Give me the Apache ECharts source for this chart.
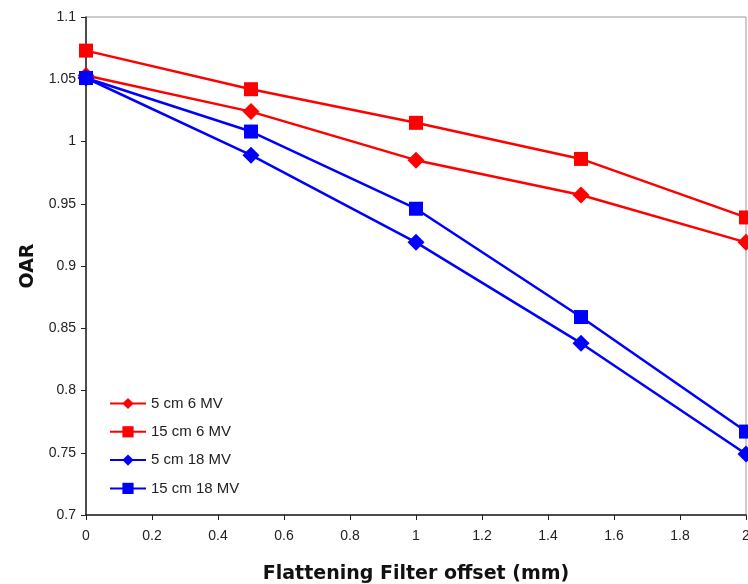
<!DOCTYPE html>
<html>
<head>
<meta charset="utf-8">
<script src="https://cdn.jsdelivr.net/npm/echarts@6/dist/echarts.min.js"></script>
<style>
  html, body { margin: 0; padding: 0; background: #fff; }
  #chart { width: 748px; height: 584px; }
</style>
</head>
<body>
<div id="chart"></div>
<script>
// offsets (mm)
const offsets = [0, 0.5, 1, 1.5, 2];
// OAR values
const oar5cm6MV = [1.053, 1.024, 0.985, 0.957, 0.919];
const oar15cm6MV = [1.073, 1.042, 1.015, 0.986, 0.939];
const oar5cm18MV = [1.051, 0.989, 0.919, 0.838, 0.749];
const oar15cm18MV = [1.051, 1.008, 0.946, 0.859, 0.767];

const seriesList = [
  { name: '5 cm 6 MV', values: oar5cm6MV, color: '#ff0000', symbol: 'diamond', size: 17 },
  { name: '15 cm 6 MV', values: oar15cm6MV, color: '#ff0000', symbol: 'rect', size: 14 },
  { name: '5 cm 18 MV', values: oar5cm18MV, color: '#0000ff', symbol: 'diamond', size: 17 },
  { name: '15 cm 18 MV', values: oar15cm18MV, color: '#0000ff', symbol: 'rect', size: 14 }
];

const myChart = echarts.init(document.getElementById('chart'));
const labelFont = { fontFamily: 'Liberation Sans, Arial', fontSize: 14, color: '#222' };

const option = {
  animation: false,
  backgroundColor: '#fff',
  grid: {
    left: 86, right: 2, top: 17, bottom: 69,
    outerBoundsMode: 'none',
    show: true, borderColor: '#999', borderWidth: 1
  },
  legend: {
    orient: 'vertical',
    left: 104, top: 391,
    itemWidth: 36, itemHeight: 14, itemGap: 13.3,
    textStyle: { fontFamily: 'Liberation Sans, Arial', fontSize: 15, color: '#222' },
    data: seriesList.map(s => s.name)
  },
  xAxis: {
    type: 'value',
    min: 0, max: 2, interval: 0.2,
    name: 'Flattening Filter offset (mm)',
    nameLocation: 'middle', nameGap: 50,
    nameTextStyle: { fontFamily: 'DejaVu Sans, Arial', fontSize: 19, fontWeight: 'bold', color: '#111' },
    axisLine: { lineStyle: { color: '#222', width: 1.5 } },
    axisTick: { lineStyle: { color: '#222' }, length: 5 },
    axisLabel: Object.assign({ margin: 14 }, labelFont),
    splitLine: { show: false }
  },
  yAxis: {
    type: 'value',
    min: 0.7, max: 1.1, interval: 0.05,
    name: 'OAR',
    nameLocation: 'middle', nameGap: 46,
    nameTextStyle: { fontFamily: 'DejaVu Sans, Arial', fontSize: 19, fontWeight: 'bold', color: '#111' },
    axisLine: { show: true, lineStyle: { color: '#222', width: 1.5 } },
    axisTick: { show: true, lineStyle: { color: '#222' }, length: 5 },
    axisLabel: Object.assign({ margin: 10 }, labelFont),
    splitLine: { show: false }
  },
  series: seriesList.map(s => ({
    type: 'line',
    name: s.name,
    data: offsets.map((x, i) => [x, s.values[i]]),
    symbol: s.symbol,
    symbolSize: s.size,
    showAllSymbol: true,
    clip: false,
    itemStyle: { color: s.color },
    lineStyle: { color: s.color, width: 2.5 }
  }))
};
myChart.setOption(option);
</script>
</body>
</html>
